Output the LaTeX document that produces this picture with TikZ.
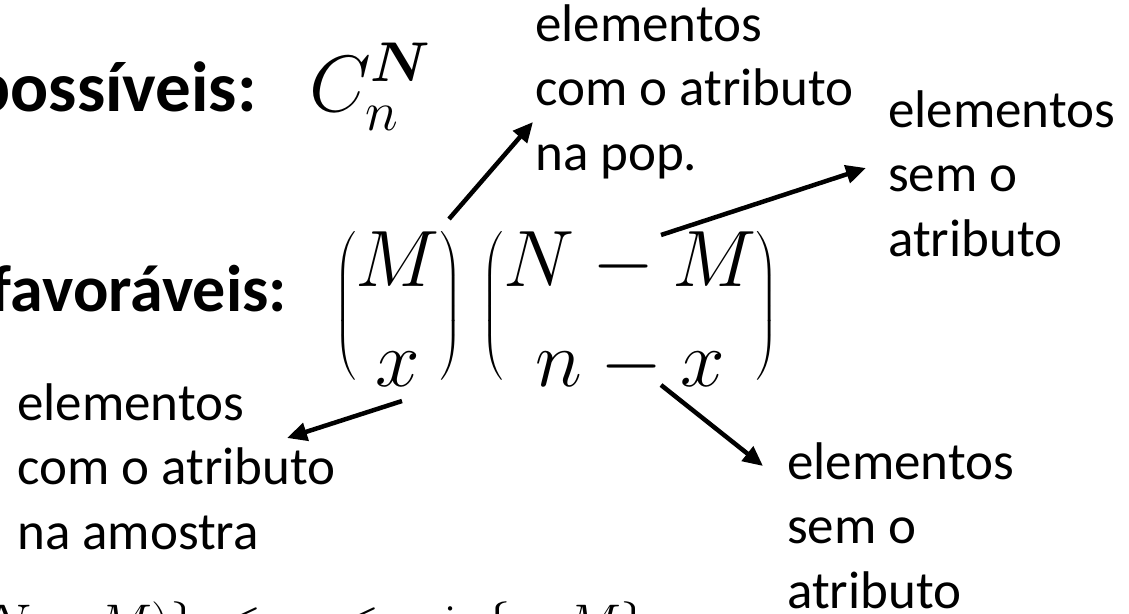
\RequirePackage{fix-cm}
\documentclass[tikz,border=0pt]{standalone}
\usepackage{amsmath}
\usepackage[no-math]{fontspec}
\setmainfont{Carlito}
\usetikzlibrary{arrows.meta}
\newcommand{\threelines}[3]{\vtop{\hbox{#1}\hbox{#2}\hbox{#3}}}
\begin{document}
\begin{tikzpicture}[x=1pt,y=-1pt,
  lbl/.style={inner sep=0pt, anchor=base west, font=\fontsize{53}{64.5}\selectfont},
  head/.style={inner sep=0pt, anchor=base east},
  mathbig/.style={inner sep=0pt, anchor=base west, font=\fontsize{80}{100}\selectfont},
  arr/.style={line width=4.5pt, -{Triangle[length=20pt,width=18pt]}}
]
\useasboundingbox (0,0) rectangle (1129,613);
% headings
\node[head, font=\fontsize{71}{80}\selectfont\bfseries] (pos) at (257,111) {possíveis:};
\node[head, font=\fontsize{66}{76}\selectfont\bfseries] (fav) at (287,311) {favoráveis:};
% combinations
\node[inner sep=0pt, anchor=base west, font=\fontsize{80}{90}\selectfont] (cnn) at (309,111) {$C_n^{\boldsymbol{N}}$};
% binomials
\node[mathbig] (bin) at (334,326) {$\Bigl(\raisebox{-10pt}{$\begin{matrix}M\\x\end{matrix}$}\Bigr)\hspace{20pt}\Bigl(\raisebox{-10pt}{$\begin{matrix}N-M\\n-x\end{matrix}$}\Bigr)$};
% bottom condition (cropped by the frame)
\node[inner sep=0pt, anchor=base west, font=\fontsize{53}{60}\selectfont] (cond) at (-16,641) {$\llap{$\max\{0,n-($}N-M)\}\mkern3mu\le\mkern3mu x\mkern3mu\le\mkern3mu\min\{n,M\}$};
% labels
\node[lbl] (ltop) at (535,41) {\threelines{elementos}{com o atributo}{na pop.}};
\node[lbl] (lright) at (888,127) {\threelines{elementos}{sem o}{atributo}};
\node[lbl] (lleft) at (17,420) {\threelines{elementos}{com o atributo}{na amostra}};
\node[lbl] (lbr) at (787,479) {\threelines{elementos}{sem o}{atributo}};
% arrow end points
\coordinate (a1s) at (449,219); \coordinate (a1e) at (533,122);
\coordinate (a2s) at (661,235); \coordinate (a2e) at (866,168);
\coordinate (a3s) at (402,401); \coordinate (a3e) at (287,438);
\coordinate (a4s) at (661,385); \coordinate (a4e) at (763,466);
\draw[arr] (a1s) -- (a1e);
\draw[arr] (a2s) -- (a2e);
\draw[arr] (a3s) -- (a3e);
\draw[arr] (a4s) -- (a4e);
\end{tikzpicture}
\end{document}
